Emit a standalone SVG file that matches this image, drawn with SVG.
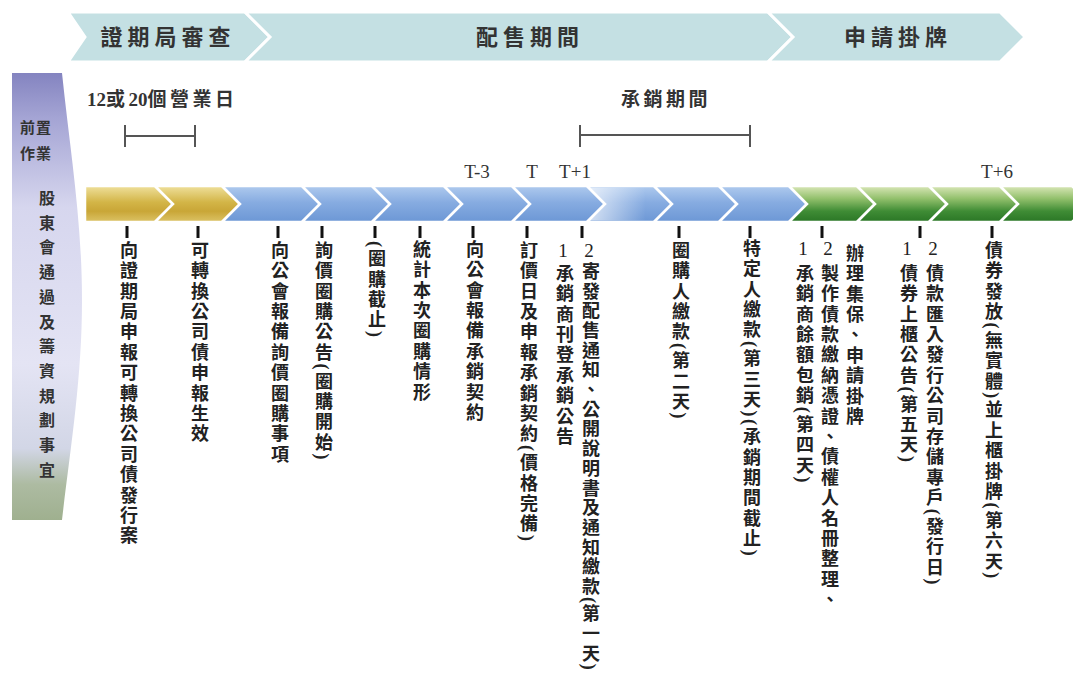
<svg xmlns="http://www.w3.org/2000/svg" width="1073" height="681" viewBox="0 0 1073 681">
<defs>
<linearGradient id="gGold" x1="0" y1="0" x2="0" y2="1">
<stop offset="0" stop-color="#efe09c"/><stop offset="0.45" stop-color="#d3b547"/><stop offset="0.7" stop-color="#c9a637"/><stop offset="1" stop-color="#dcc366"/>
</linearGradient>
<linearGradient id="gBlue" x1="0" y1="0" x2="0" y2="1">
<stop offset="0" stop-color="#afcaee"/><stop offset="0.45" stop-color="#87ace1"/><stop offset="1" stop-color="#6c97d5"/>
</linearGradient>
<linearGradient id="gFade" x1="0" y1="0" x2="1" y2="0">
<stop offset="0" stop-color="#ffffff" stop-opacity="0.7"/><stop offset="0.7" stop-color="#ffffff" stop-opacity="0"/>
</linearGradient>
<linearGradient id="gGreen" x1="0" y1="0" x2="0" y2="1">
<stop offset="0" stop-color="#dae7b8"/><stop offset="0.35" stop-color="#92c06c"/><stop offset="0.7" stop-color="#3f8c35"/><stop offset="1" stop-color="#2a7625"/>
</linearGradient>
<linearGradient id="gLeft" x1="0" y1="0" x2="0" y2="1">
<stop offset="0" stop-color="#8484c0"/><stop offset="0.1" stop-color="#a4a4d4"/><stop offset="0.3" stop-color="#d6d6ee"/><stop offset="0.65" stop-color="#e4e4f4"/><stop offset="0.84" stop-color="#d2d6e6"/><stop offset="0.92" stop-color="#adbba2"/><stop offset="1" stop-color="#9fb08f"/>
</linearGradient>
<style>
.ban{fill:#c4e0e3;stroke:#ffffff;stroke-width:3}
.bt{font-family:"Noto Sans CJK TC",sans-serif;font-weight:bold;font-size:22px;letter-spacing:5px;fill:#333;text-anchor:middle}
.ch{stroke:#ffffff;stroke-width:2.5;stroke-linejoin:miter}
.gold{fill:url(#gGold)}
.blue{fill:url(#gBlue)}
.green{fill:url(#gGreen)}
.v{writing-mode:vertical-rl;font-family:"Liberation Serif","Noto Sans CJK TC",serif;font-weight:bold;font-size:18px;letter-spacing:2.4px;fill:#222}
.d{font-family:"Liberation Serif",serif;font-size:19px;fill:#222;text-anchor:middle}
.t{font-family:"Liberation Serif",serif;font-size:19px;fill:#333;text-anchor:middle}
.lab{font-family:"Liberation Serif","Noto Sans CJK TC",serif;font-weight:bold;font-size:19px;fill:#333}
.sp{letter-spacing:3.5px}
.tick{stroke:#111;stroke-width:3}
.bar{stroke:#555;stroke-width:2;fill:none}
.lt{font-family:"Noto Sans CJK TC",sans-serif;font-weight:bold;font-size:15px;letter-spacing:1px;fill:#333}
.lv{writing-mode:vertical-rl;font-family:"Noto Sans CJK TC",sans-serif;font-weight:bold;font-size:16px;letter-spacing:8.7px;fill:#333}
</style>
</defs>
<rect width="1073" height="681" fill="#ffffff"/>

<g id="phase-review">
<path class="ban" d="M68,12 L245,12 L270,37 L245,62 L68,62 L85,37 Z"/>
<text class="bt" x="168" y="45">證期局審查</text>
</g>
<g id="phase-sale">
<path class="ban" d="M245,12 L768,12 L793,37 L768,62 L245,62 L270,37 Z"/>
<text class="bt" x="530" y="45">配售期間</text>
</g>
<g id="phase-listing">
<path class="ban" d="M768,12 L1000,12 L1025,37 L1000,62 L768,62 L793,37 Z"/>
<text class="bt" x="898" y="45">申請掛牌</text>
</g>

<g id="pre-work">
<path d="M12,73 L62,73 C70,150 82,220 82,300 C82,380 70,450 62,520 L12,520 Z" fill="url(#gLeft)"/>
<text class="lt" x="20" y="133">前置</text>
<text class="lt" x="20" y="159">作業</text>
<text class="lv" x="47" y="190">股東會通過及籌資規劃事宜</text>
</g>

<g id="range-labels">
<text class="lab" x="87" y="106">12<tspan class="sp">或</tspan>20<tspan class="sp">個營業日</tspan></text>
<text class="lab sp" x="621" y="106">承銷期間</text>
<text class="t" x="477" y="178">T-3</text>
<text class="t" x="532" y="178">T</text>
<text class="t" x="575" y="178">T+1</text>
<text class="t" x="997" y="178">T+6</text>
</g>

<g id="timeline">
<path class="ch gold" d="M85,186 L155,186 L173,204 L155,222 L85,222 Z"/>
<path class="ch gold" d="M155,186 L222,186 L240,204 L222,222 L155,222 L173,204 Z"/>
<path class="ch blue" d="M222,186 L302,186 L320,204 L302,222 L222,222 L240,204 Z"/>
<path class="ch blue" d="M302,186 L372,186 L390,204 L372,222 L302,222 L320,204 Z"/>
<path class="ch blue" d="M372,186 L444,186 L462,204 L444,222 L372,222 L390,204 Z"/>
<path class="ch blue" d="M444,186 L512,186 L530,204 L512,222 L444,222 L462,204 Z"/>
<path class="ch blue" d="M512,186 L587,186 L605,204 L587,222 L512,222 L530,204 Z"/>
<path class="ch blue" d="M587,186 L654,186 L672,204 L654,222 L587,222 L605,204 Z"/>
<path d="M589,187.5 L653,187.5 L670,204 L653,220.5 L589,220.5 L606,204 Z" fill="url(#gFade)"/>
<path class="ch blue" d="M654,186 L719,186 L737,204 L719,222 L654,222 L672,204 Z"/>
<path class="ch blue" d="M719,186 L789,186 L807,204 L789,222 L719,222 L737,204 Z"/>
<path class="ch green" d="M789,186 L857,186 L875,204 L857,222 L789,222 L807,204 Z"/>
<path class="ch green" d="M857,186 L929,186 L947,204 L929,222 L857,222 L875,204 Z"/>
<path class="ch green" d="M929,186 L1000,186 L1018,204 L1000,222 L929,222 L947,204 Z"/>
<path class="ch green" d="M1000,186 L1072,186 L1090,204 L1072,222 L1000,222 L1018,204 Z"/>
</g>

<g id="connectors">
<path class="bar" d="M125,136 H195 M125,125 V147 M195,125 V147"/>
<path class="bar" d="M580,135 H750 M580,125 V147 M750,125 V147"/>
<path class="tick" d="M127,226 V238 M198,226 V238 M278,226 V238 M322,226 V238 M375,226 V238 M420,226 V238 M473,226 V238 M527,226 V238 M582,226 V238 M679,226 V238 M750,226 V238 M822,226 V238 M920,226 V238 M992,226 V238"/>
</g>

<g id="step-1"><text class="v" x="127" y="241">向證期局申報可轉換公司債發行案</text></g>
<g id="step-2"><text class="v" x="198" y="241">可轉換公司債申報生效</text></g>
<g id="step-3"><text class="v" x="278" y="241">向公會報備詢價圈購事項</text></g>
<g id="step-4"><text class="v" x="322" y="241">詢價圈購公告(圈購開始)</text></g>
<g id="step-5"><text class="v" x="375" y="241">(圈購截止)</text></g>
<g id="step-6"><text class="v" x="420" y="240">統計本次圈購情形</text></g>
<g id="step-7"><text class="v" x="473" y="240">向公會報備承銷契約</text></g>
<g id="step-8"><text class="v" x="527" y="241">訂價日及申報承銷契約(價格完備)</text></g>
<g id="step-9"><text class="d" x="563" y="257">1</text><text class="v" x="563" y="264">承銷商刊登承銷公告</text></g>
<g id="step-10"><text class="d" x="589" y="257">2</text><text class="v" x="589" y="262" style="letter-spacing:1.7px">寄發配售通知、公開說明書及通知繳款(第一天)</text></g>
<g id="step-11"><text class="v" x="679" y="241">圈購人繳款(第二天)</text></g>
<g id="step-12"><text class="v" x="750" y="239">特定人繳款(第三天)(承銷期間截止)</text></g>
<g id="step-13"><text class="d" x="803" y="255">1</text><text class="v" x="803" y="264">承銷商餘額包銷(第四天)</text></g>
<g id="step-14"><text class="d" x="828" y="255">2</text><text class="v" x="828" y="264">製作債款繳納憑證、債權人名冊整理、</text></g>
<g id="step-15"><text class="v" x="853" y="244">辦理集保、申請掛牌</text></g>
<g id="step-16"><text class="d" x="907" y="255">1</text><text class="v" x="907" y="264">債券上櫃公告(第五天)</text></g>
<g id="step-17"><text class="d" x="933" y="255">2</text><text class="v" x="933" y="264">債款匯入發行公司存儲專戶(發行日)</text></g>
<g id="step-18"><text class="v" x="992" y="241">債券發放(無實體)並上櫃掛牌(第六天)</text></g>
</svg>
